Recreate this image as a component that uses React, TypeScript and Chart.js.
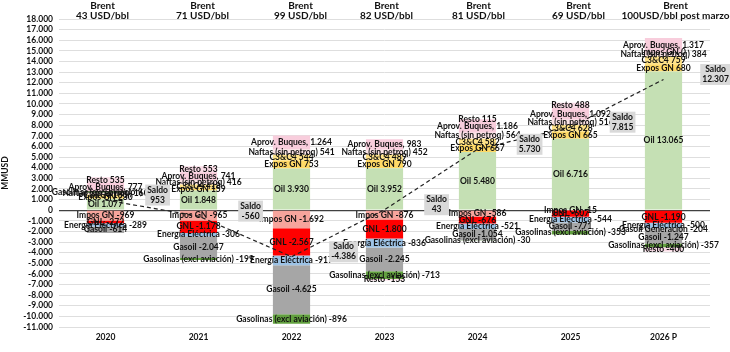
import React, { useEffect, useRef } from 'react';
import { Chart, registerables } from 'chart.js';
Chart.register(...registerables);

const categories = ['2020', '2021', '2022', '2023', '2024', '2025', '2026 P'];
const brentLabels = ['43 USD/bbl', '71 USD/bbl', '99 USD/bbl', '82 USD/bbl', '81 USD/bbl', '69 USD/bbl', '100USD/bbl post marzo'];

const oil = [1077, 1848, 3930, 3952, 5480, 6716, 13065];
const exposGN = [230, 159, 753, 790, 667, 665, 680];
const c3c4 = [180, 418, 544, 489, 582, 628, 759];
const naftas = [160, 416, 541, 452, 564, 516, 384];
const imposGN = [-969, -965, -1692, -876, -586, -15, 0];
const gnl = [-272, -1178, -2567, -1800, -676, -607, -1190];
const energia = [-289, -306, -917, -836, -521, -544, -500];
const gasoilGen = [null, null, null, null, null, null, -204];
const gasoil = [-614, -2047, -4625, -2245, -1054, -771, -1247];
const gasolinas = [141, -199, -896, -713, -30, -353, -357];
const aprov = [777, 741, 1264, 983, 1186, 1092, 1317];
const resto = [535, 553, null, -153, 115, 488, -400];
const saldo = [953, -560, -4386, 43, 5730, 7815, 12307];

// small horizontal nudges of the manually placed "Brent" text boxes (px)
const brentNudge = [-3, 4, 9, 2, 1, 8, 12];

type Series = { name: string; data: (number | null)[]; color: string; sep?: string };

const series: Series[] = [
  { name: 'Oil', data: oil, color: '#c5e0b4' },
  { name: 'Expos GN', data: exposGN, color: '#ffd966' },
  { name: 'C3&C4', data: c3c4, color: '#ffe389' },
  { name: 'Naftas (sin petroq)', data: naftas, color: '#fbe3e6' },
  { name: 'Impos GN', data: imposGN, color: '#f6a49c' },
  { name: 'GNL', data: gnl, color: '#ff0000' },
  { name: 'Energía Eléctrica', data: energia, color: '#9dc3e6' },
  { name: 'Gasoil Generación', data: gasoilGen, color: '#bfbfbf' },
  { name: 'Gasoil', data: gasoil, color: '#a6a6a6' },
  { name: 'Gasolinas (excl aviación)', data: gasolinas, color: '#62a03f' },
  { name: 'Aprov. Buques', data: aprov, color: '#f8cddc', sep: ', ' },
  { name: 'Resto', data: resto, color: '#fadbe6' },
];

function fmt(v: number): string {
  const s = Math.abs(Math.round(v)).toString().replace(/\B(?=(\d{3})+(?!\d))/g, '.');
  return (v < 0 ? '-' : '') + s;
}

const FONT = 'Lato';

const labelPlugin = {
  id: 'segLabels',
  afterDatasetsDraw(chart: any) {
    const ctx = chart.ctx as CanvasRenderingContext2D;
    const xs = chart.scales.x;
    const ys = chart.scales.y;
    ctx.save();
    ctx.font = `bold 8.5px ${FONT}`;
    ctx.textAlign = 'center';
    ctx.textBaseline = 'middle';
    ctx.fillStyle = '#111';
    series.forEach((s, di) => {
      const meta = chart.getDatasetMeta(di);
      meta.data.forEach((el: any, i: number) => {
        const v = s.data[i];
        if (v === null || v === undefined) return;
        const p = el.getProps(['x', 'y', 'base'], true);
        const y = (p.y + p.base) / 2;
        ctx.fillText(`${s.name}${s.sep ?? ' '}${fmt(v)}`, p.x, y);
      });
    });
    const cw = xs.getPixelForValue(1) - xs.getPixelForValue(0);
    saldo.forEach((v, i) => {
      const x = xs.getPixelForValue(i) + cw * 0.56;
      const y = ys.getPixelForValue(v) - 5;
      const t2 = fmt(v);
      const w = Math.max(ctx.measureText('Saldo').width, ctx.measureText(t2).width) + 4;
      ctx.fillStyle = '#d9d9d9';
      ctx.fillRect(x - w / 2, y - 10.5, w, 21);
      ctx.fillStyle = '#111';
      ctx.fillText('Saldo', x, y - 5);
      ctx.fillText(t2, x, y + 5);
    });
    ctx.font = `bold 10px ${FONT}`;
    categories.forEach((_c, i) => {
      const x = xs.getPixelForValue(i) + brentNudge[i];
      ctx.fillText('Brent', x, 6);
      ctx.fillText(brentLabels[i], x, 16);
    });
    ctx.restore();
  },
};

export default function App() {
  const ref = useRef<HTMLCanvasElement | null>(null);
  useEffect(() => {
    if (!ref.current) return;
    Chart.defaults.font.family = FONT;
    const datasets: any[] = series.map((s) => ({
      type: 'bar',
      label: s.name,
      data: s.data,
      backgroundColor: s.color,
      borderWidth: 0,
      stack: 'main',
      order: 1,
      barPercentage: 0.4,
      categoryPercentage: 1.0,
    }));
    datasets.push({
      type: 'line',
      label: 'Saldo',
      data: saldo,
      stack: 'saldo',
      borderColor: '#222',
      borderWidth: 1.2,
      borderDash: [4, 3],
      pointRadius: 0,
      fill: false,
      order: 0,
    });
    const chart = new Chart(ref.current, {
      type: 'bar',
      data: { labels: categories, datasets },
      plugins: [labelPlugin],
      options: {
        responsive: false,
        animation: false,
        layout: { padding: { top: 19, right: 20, left: 0, bottom: 0 } },
        plugins: { legend: { display: false }, tooltip: { enabled: false } },
        scales: {
          x: {
            stacked: true,
            grid: { display: false, drawTicks: false },
            border: { display: false },
            ticks: { font: { size: 8.5, weight: 'bold', family: FONT }, color: '#111', padding: 5 },
            afterFit: (s: any) => { s.height = 25; },
          },
          y: {
            stacked: true,
            min: -11000,
            max: 18000,
            grid: {
              drawTicks: false,
              color: (c: any) => (c.tick && c.tick.value === 0 ? '#404040' : '#dedede'),
              lineWidth: (c: any) => (c.tick && c.tick.value === 0 ? 1.2 : 1),
            },
            border: { display: false },
            ticks: {
              stepSize: 1000,
              autoSkip: false,
              padding: 6,
              color: '#111',
              font: { size: 8.5, weight: 'bold', family: FONT },
              callback: (v: any) => fmt(Number(v)),
            },
            title: { display: true, text: 'MMUSD', font: { size: 8.5, weight: 'bold', family: FONT }, color: '#111', padding: 0 },
            afterFit: (s: any) => { s.width = 59; },
          },
        },
      },
    });
    return () => chart.destroy();
  }, []);
  return (
    <div style={{ position: 'fixed', left: 0, top: 0, width: 730, height: 352, background: '#fff' }}>
      <canvas ref={ref} width={730} height={352} style={{ display: 'block' }} />
    </div>
  );
}
